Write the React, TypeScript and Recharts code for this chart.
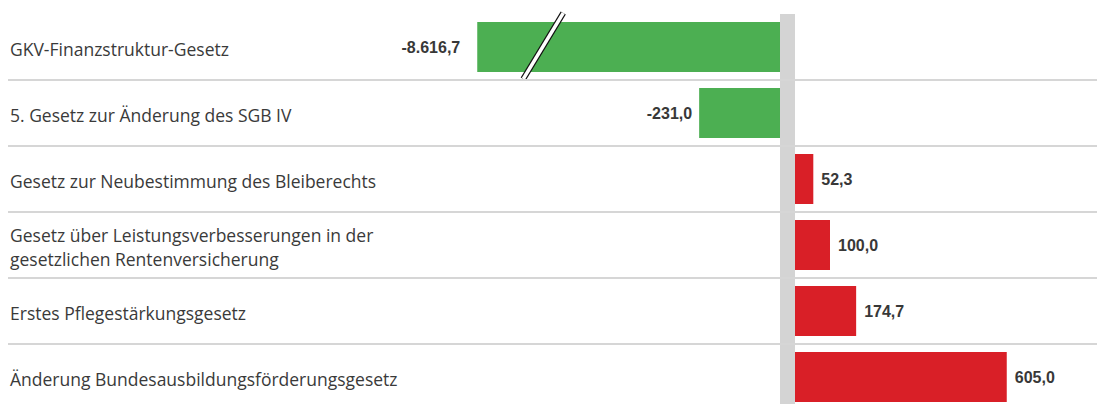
import { BarChart, Bar, XAxis, YAxis, ReferenceLine } from "recharts";

const categories = [
  "GKV-Finanzstruktur-Gesetz",
  "5. Gesetz zur Änderung des SGB IV",
  "Gesetz zur Neubestimmung des Bleiberechts",
  "Gesetz über Leistungsverbesserungen in der\ngesetzlichen Rentenversicherung",
  "Erstes Pflegestärkungsgesetz",
  "Änderung Bundesausbildungsförderungsgesetz",
];
const values = [-8616.7, -231.0, 52.3, 100.0, 174.7, 605.0];
// the axis is broken here, longer bars are cut off
const breakValue = -865;

const data = categories.map((name, i) => ({
  name,
  value: values[i],
  shown: Math.max(values[i], breakValue),
}));

const GREEN = "#4caf52";
const RED = "#d91f27";
const BAND = 66;
const GAP = 7.5; // half width of the grey zero band

function fmt(v: number) {
  const [i, d] = Math.abs(v).toFixed(1).split(".");
  return (v < 0 ? "-" : "") + i.replace(/\B(?=(\d{3})+(?!\d))/g, ".") + "," + d;
}

function CategoryTick(props: any) {
  const { y, payload, index } = props;
  const lines = String(payload.value).split("\n");
  const lh = 24;
  const start = -((lines.length - 1) * lh) / 2;
  return (
    <g>
      <text
        x={10}
        y={y + 2}
        fill="#3a3a3a"
        fontSize={17.5}
        fontFamily="'Open Sans', sans-serif"
        dominantBaseline="central"
      >
        {lines.map((l, k) => (
          <tspan key={k} x={10} dy={k === 0 ? start : lh}>
            {l}
          </tspan>
        ))}
      </text>
      {index < categories.length - 1 && (
        <line x1={8} x2={1097} y1={y + BAND / 2} y2={y + BAND / 2} stroke="#d6d6d6" strokeWidth={2} />
      )}
    </g>
  );
}

function BarShape(props: any) {
  const { x, y, width, height, payload } = props;
  const neg = payload.value < 0;
  const left = Math.min(x, x + width) + (neg ? -GAP : GAP);
  const w = Math.abs(width);
  const cy = y + height / 2;
  const broken = payload.value < payload.shown;
  const sx = left + 66;
  return (
    <g>
      <rect x={left} y={y} width={w} height={height} fill={neg ? GREEN : RED} />
      {broken && (
        <g>
          <line x1={sx - 20} y1={cy + 32} x2={sx + 20} y2={cy - 34} stroke="#111" strokeWidth={6} />
          <line x1={sx - 20} y1={cy + 32} x2={sx + 20} y2={cy - 34} stroke="#fff" strokeWidth={3.4} />
        </g>
      )}
      <text
        x={neg ? left - (broken ? 17 : 7) : left + w + 8}
        y={cy}
        textAnchor={neg ? "end" : "start"}
        dominantBaseline="central"
        fontFamily="'Liberation Sans', Arial, sans-serif"
        fontWeight="bold"
        fontSize={16}
        fill="#383838"
      >
        {fmt(payload.value)}
      </text>
    </g>
  );
}

export default function App() {
  return (
    <div style={{ position: "absolute", left: 0, top: 0, background: "#fff" }}>
      <BarChart
        width={1097}
        height={410}
        data={data}
        layout="vertical"
        margin={{ top: 14, right: 29.5, bottom: 0, left: 0 }}
      >
        <XAxis type="number" domain={[-1000, 800]} hide />
        <YAxis
          type="category"
          dataKey="name"
          width={437.5}
          axisLine={false}
          tickLine={false}
          interval={0}
          tick={<CategoryTick />}
        />
        <Bar dataKey="shown" barSize={50} shape={<BarShape />} isAnimationActive={false} />
        <ReferenceLine x={0} stroke="#d4d4d4" strokeWidth={15} />
      </BarChart>
    </div>
  );
}
